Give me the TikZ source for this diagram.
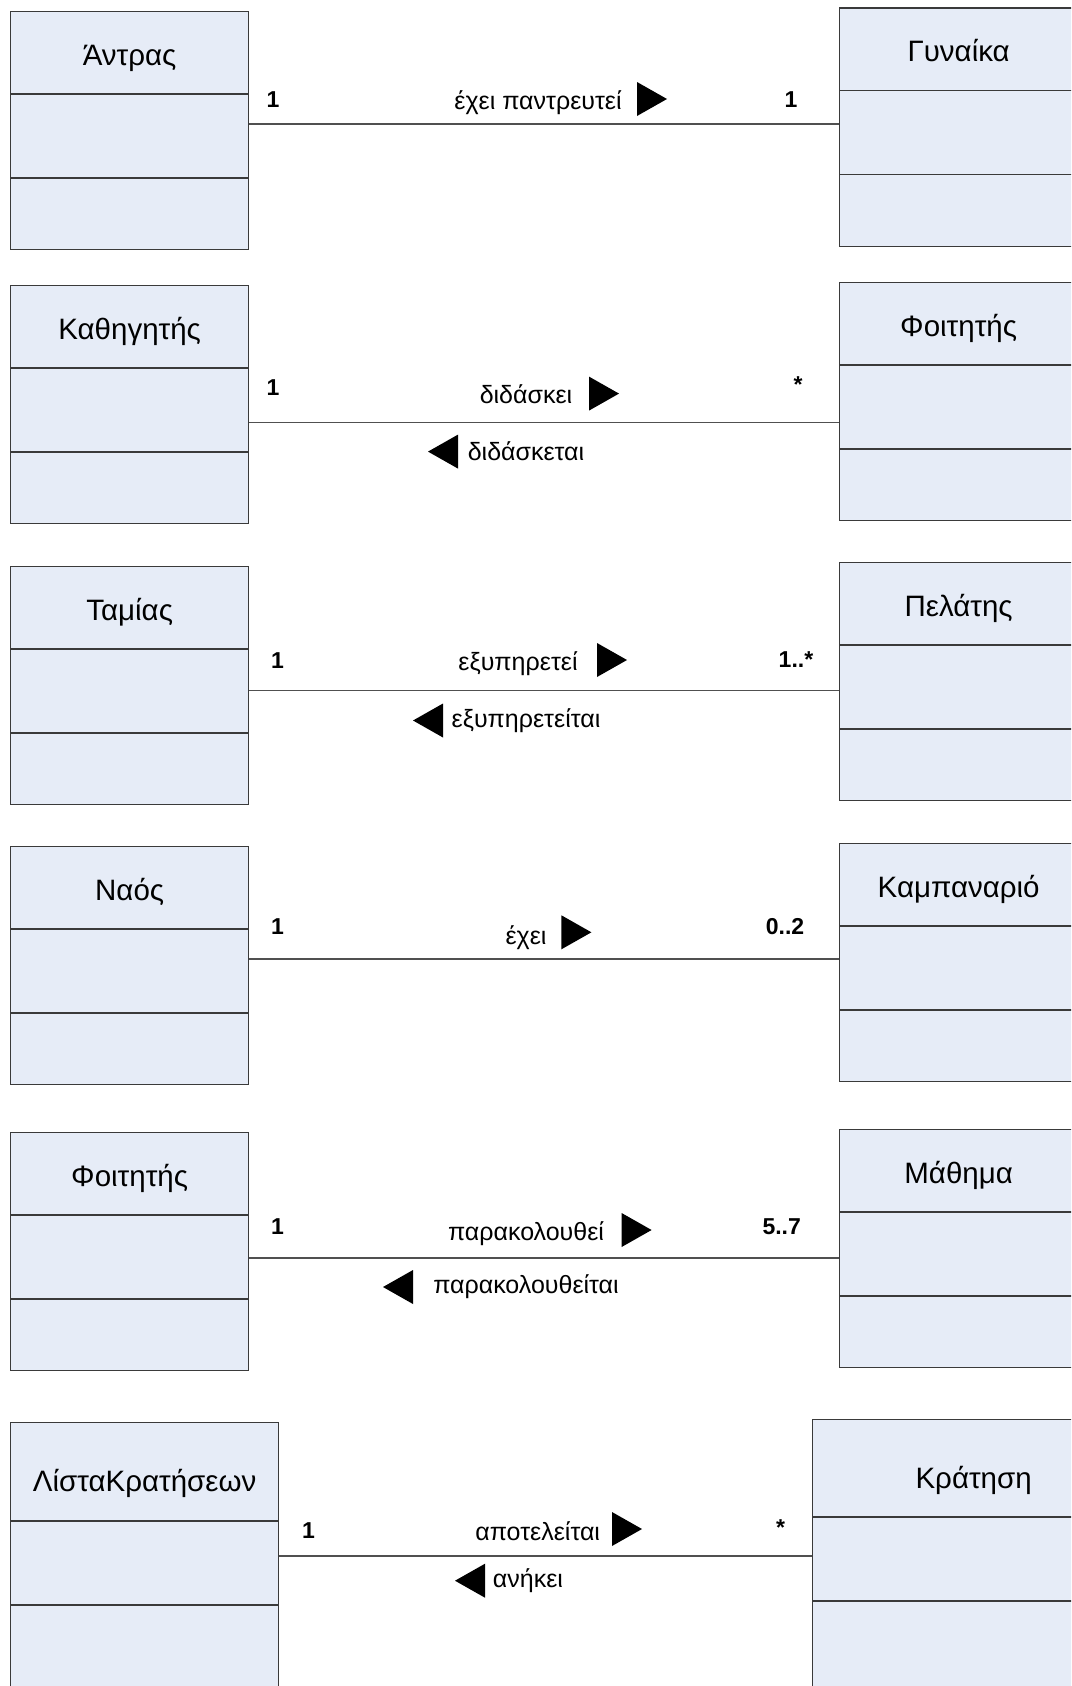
\documentclass[tikz,border=0pt]{standalone}
\usepackage{fontspec}
\setmainfont{Liberation Sans}
\definecolor{classfill}{HTML}{E6ECF7}
\definecolor{classline}{HTML}{3A3A3A}
\definecolor{assocline}{HTML}{505050}
\tikzset{
  classbody/.style={draw=classline, line width=1.3pt, fill=classfill, inner sep=0pt, rectangle},
  divider/.style={draw=classline, line width=1.3pt},
  classname/.style={font=\fontsize{29.5}{34}\selectfont, inner sep=0pt},
  assoc/.style={draw=assocline, line width=1.5pt},
  mult/.style={font=\bfseries\fontsize{23}{27}\selectfont, inner sep=0pt},
  rolelabel/.style={font=\fontsize{25}{29}\selectfont, inner sep=0pt},
}
% #1 id, #2 left x, #3 top y, #4 width, #5 header height, #6 total height, #7 baseline offset of the name, #8 name
\newcommand\umlclass[8]{%
  \node[classbody, minimum width=#4pt, minimum height=#6pt, anchor=north west] (#1) at (#2,#3) {};
  \draw[divider] ([yshift=-#5pt]#1.north west) -- ([yshift=-#5pt]#1.north east);
  \draw[divider] ([yshift={-#5pt-84pt}]#1.north west) -- ([yshift={-#5pt-84pt}]#1.north east);
  \node[classname, anchor=base] (#1-name) at ([yshift=-#7pt]#1.north) {#8};
}
% filled direction arrows of the association names
\newcommand\dirright[2]{\fill (#1-15,#2-17) -- (#1+15,#2) -- (#1-15,#2+17) -- cycle;}
\newcommand\dirleft[2]{\fill (#1+15,#2-17) -- (#1-15,#2) -- (#1+15,#2+17) -- cycle;}
% association line at a given depth below the top of the left class
\newcommand\assoc[3]{%
  \path (#1.north east) ++(0,#3) coordinate (#1-end);
  \draw[assoc] (#1-end) -- (#1-end -| #2.west);
}
\begin{document}
\begin{tikzpicture}[x=1pt,y=-1pt]
\useasboundingbox (0,0) rectangle (1071,1686);
\clip (0,0) rectangle (1071,1686);

% Man -- Woman
\umlclass{man}{10}{11}{238}{83}{238}{54.5}{Άντρας}
\umlclass{woman}{839}{7.5}{238}{83}{238}{54.5}{Γυναίκα}
\assoc{man}{woman}{113}
\node[mult] (m1a) at (273,100) {1};
\node[mult] (m1b) at (791,100) {1};
\node[rolelabel] (l1) at (538,103) {έχει παντρευτεί};
\dirright{652}{99}

% Professor -- Student
\umlclass{prof}{10}{285}{238}{83}{238}{54.5}{Καθηγητής}
\umlclass{stud}{839}{282}{238}{83}{238}{54.5}{Φοιτητής}
\assoc{prof}{stud}{137.6}
\node[mult] (m2a) at (273,388) {1};
\node[mult] (m2b) at (798,385) {*};
\node[rolelabel] (l2) at (526,394.6) {διδάσκει};
\dirright{604}{393.6}
\node[rolelabel] (l2r) at (526,451.6) {διδάσκεται};
\dirleft{443}{451.6}

% Cashier -- Customer
\umlclass{cash}{10}{566}{238}{83}{238}{54.5}{Ταμίας}
\umlclass{cust}{839}{562}{238}{83}{238}{54.5}{Πελάτης}
\assoc{cash}{cust}{124.3}
\node[mult] (m3a) at (277.4,660.2) {1};
\node[mult] (m3b) at (796,660) {1..*};
\node[rolelabel] (l3) at (518,663.5) {εξυπηρετεί};
\dirright{612}{660}
\node[rolelabel] (l3r) at (526,720.5) {εξυπηρετείται};
\dirleft{428}{720.5}

% Church -- Bell tower
\umlclass{church}{10}{846}{238}{83}{238}{54.5}{Ναός}
\umlclass{tower}{839}{843}{238}{83}{238}{54.5}{Καμπαναριό}
\assoc{church}{tower}{113.2}
\node[mult] (m4a) at (277.4,927) {1};
\node[mult] (m4b) at (785,927) {0..2};
\node[rolelabel] (l4) at (526,937.7) {έχει};
\dirright{576.4}{932.3}

% Student -- Course
\umlclass{stud2}{10}{1132}{238}{83}{238}{54.5}{Φοιτητής}
\umlclass{course}{839}{1129}{238}{83}{238}{54.5}{Μάθημα}
\assoc{stud2}{course}{126}
\node[mult] (m5a) at (277.4,1227) {1};
\node[mult] (m5b) at (781.7,1227) {5..7};
\node[rolelabel] (l5) at (526,1233.4) {παρακολουθεί};
\dirright{636.6}{1230}
\node[rolelabel] (l5r) at (526,1287) {παρακολουθείται};
\dirleft{398}{1287}

% Booking list -- Booking
\umlclass{blist}{10}{1422}{268}{99}{300}{69}{ΛίσταΚρατήσεων}
\umlclass{book}{812}{1419}{322}{98}{300}{69}{Κράτηση}
\assoc{blist}{book}{134}
\node[mult] (m6a) at (308.6,1531) {1};
\node[mult] (m6b) at (780.7,1528) {*};
\node[rolelabel] (l6) at (537.7,1531) {αποτελείται};
\dirright{627}{1529}
\node[rolelabel] (l6r) at (528,1580.7) {ανήκει};
\dirleft{470}{1580.7}
\end{tikzpicture}
\end{document}
